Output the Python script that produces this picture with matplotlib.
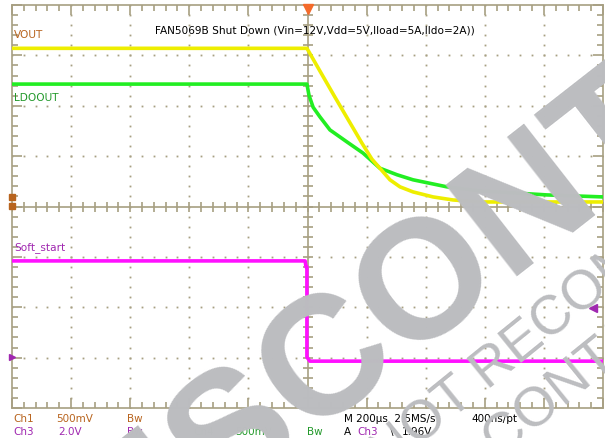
import numpy as np
import matplotlib.pyplot as plt

# scope settings (200 us/div, 10 x 8 divisions)
t_span = 1000  # us either side of the trigger

# traces: time in us, level in screen divisions
vout_t = [-1000, -2, 2, 42, 93, 144, 184, 218, 245, 279, 313, 357, 425, 492, 584, 1000]
vout_v = [3.14, 3.14, 3.10, 2.69, 2.17, 1.66, 1.26, 0.94, 0.76, 0.53, 0.39, 0.29, 0.19, 0.13, 0.09, 0.09]

ldo_t = [-1000, -2, 5, 19, 42, 76, 134, 188, 245, 303, 357, 472, 584, 810, 1000]
ldo_v = [2.43, 2.43, 2.21, 1.97, 1.78, 1.52, 1.28, 1.06, 0.76, 0.63, 0.53, 0.39, 0.31, 0.23, 0.19]

ss_t = [-1000, -8, -5, -2, -2, 8, 1000]
ss_v = [-1.08, -1.08, -1.20, -1.20, -2.99, -3.07, -3.07]

title = "FAN5069B Shut Down (Vin=12V,Vdd=5V,Iload=5A,Ildo=2A))"

grat = "#a79f82"
c_yel = "#eeee00"
c_grn = "#22ee22"
c_mag = "#ff10ff"
c_ch1 = "#b8641e"
c_ch3 = "#a028b0"
c_ch4 = "#22992a"
c_wm = "#bcbdc0"

fig = plt.figure(figsize=(6.05, 4.38), dpi=100)
ax = fig.add_axes([12 / 605, 30 / 438, 591 / 605, 403 / 438])
ax.set_xlim(-t_span, t_span)
ax.set_ylim(-4, 4)

# graticule frame + ticks
for s in ax.spines.values():
    s.set_color(grat)
    s.set_linewidth(1.2)
ax.set_xticks(np.arange(-1000, 1001, 200))
ax.set_xticks(np.arange(-1000, 1001, 40), minor=True)
ax.set_yticks(np.arange(-4, 4.1, 1))
ax.set_yticks(np.arange(-4, 4.01, 0.2), minor=True)
ax.tick_params(which="both", direction="in", top=True, right=True,
               labelbottom=False, labelleft=False, color=grat, width=1.2)
ax.tick_params(which="major", length=7)
ax.tick_params(which="minor", length=4.3)

# dotted grid
for gx in np.arange(-800, 801, 200):
    if gx == 0:
        continue
    ys = np.arange(-4, 4.01, 0.2)
    ax.plot(np.full_like(ys, gx), ys, ls="none", marker="s", ms=1.3, mew=0, color=grat, zorder=1)
for gy in range(-3, 4):
    if gy == 0:
        continue
    xs = np.arange(-1000, 1001, 40)
    ax.plot(xs, np.full_like(xs, gy, dtype=float), ls="none", marker="s", ms=1.3, mew=0, color=grat, zorder=1)

# centre cross with minor ticks
ax.axvline(0, color=grat, lw=1.2, zorder=1)
ax.axhline(0, color=grat, lw=1.2, zorder=1)
cy = np.arange(-4, 4.01, 0.2)
ax.plot(np.zeros_like(cy), cy, ls="none", marker="_", ms=7, mew=1.2, color=grat, zorder=1)
cx = np.arange(-1000, 1001, 40)
ax.plot(cx, np.zeros_like(cx, dtype=float), ls="none", marker="|", ms=7, mew=1.2, color=grat, zorder=1)

# traces
ax.plot(ldo_t, ldo_v, color=c_grn, lw=2.6, zorder=3)
ax.plot(vout_t, vout_v, color=c_yel, lw=2.6, zorder=3)
ax.plot(ss_t, ss_v, color=c_mag, lw=2.6, zorder=3)

# channel markers
ax.plot(0, 3.93, marker="v", ms=7, color="#f46a2a", clip_on=False, zorder=5)
ax.plot([-1000, -1000], [0.19, 0.01], ls="none", marker="s", ms=4, color=c_ch1, clip_on=False, zorder=5)
ax.plot(-1000, -2.99, marker=">", ms=4, color=c_ch3, clip_on=False, zorder=5)
ax.plot(966, -2.01, marker="<", ms=6, color=c_ch3, zorder=5)

# labels
fs = 7.6
ax.text(-516, 3.50, title, fontsize=fs, color="black", va="center", zorder=4)
ax.text(-993, 3.40, "VOUT", fontsize=fs, color=c_ch1, va="center", zorder=4)
ax.text(-993, 2.15, "LDOOUT", fontsize=fs, color=c_ch4, va="center", zorder=4)
ax.text(-993, -0.82, "Soft_start", fontsize=fs, color=c_ch3, va="center", zorder=4)

r1, r2 = 1 - 419 / 438, 1 - 432 / 438
status = [
    (13, r1, "Ch1", c_ch1), (56, r1, "500mV", c_ch1), (127, r1, "Bw", c_ch1),
    (344, r1, "M 200\u03bcs  2.5MS/s", "black"), (471, r1, "400ns/pt", "black"),
    (13, r2, "Ch3", c_ch3), (58, r2, "2.0V", c_ch3), (127, r2, "Bw", c_ch3),
    (193, r2, "Ch4", c_ch4), (235, r2, "500mV", c_ch4), (307, r2, "Bw", c_ch4),
    (344, r2, "A", "black"), (357, r2, "Ch3", c_ch3), (390, r2, "\\", "black"),
    (402, r2, "1.96V", "black"),
]
for x, y, s, c in status:
    fig.text(x / 605, y, s, fontsize=7.5, color=c, va="center", zorder=4)

# watermark
fig.text(83 / 605, 1 - 606 / 438, "DISCONTINUED", fontsize=122, family="Liberation Sans",
         weight="bold", color=c_wm, rotation=38, rotation_mode="anchor",
         ha="left", va="baseline", zorder=10)
fig.text(387 / 605, 1 - 473 / 438, "NOT RECOMMENDED FOR NEW DESIGN", fontsize=39.5,
         family="Liberation Sans", color=c_wm, rotation=39, rotation_mode="anchor",
         ha="left", va="baseline", zorder=10)
fig.text(500 / 605, 1 - 460 / 438, "CONTACT US", fontsize=39.5,
         family="Liberation Sans", color=c_wm, rotation=39, rotation_mode="anchor",
         ha="left", va="baseline", zorder=10)

fig.savefig("out.png", dpi=100)
